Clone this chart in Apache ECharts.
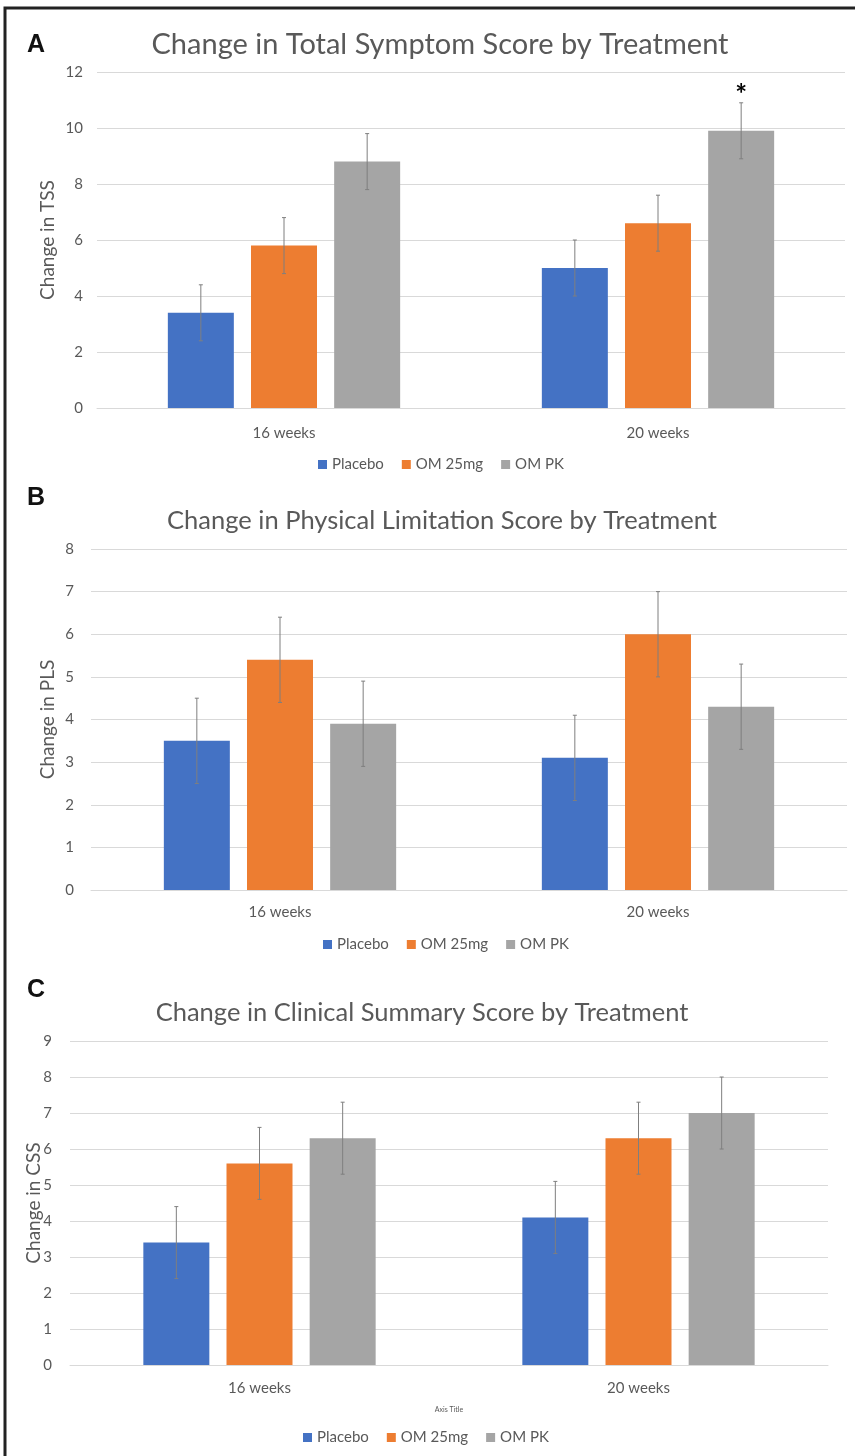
<!DOCTYPE html>
<html>
<head>
<meta charset="utf-8">
<script src="https://cdn.jsdelivr.net/npm/echarts@6/dist/echarts.min.js"></script>
<style>
html,body{margin:0;padding:0;background:#fff;}
#c{width:855px;height:1456px;}
</style>
</head>
<body>
<div id="c"></div>
<script>
// ---- data ----
const categories = ['16 weeks', '20 weeks'];
const seriesNames = ['Placebo', 'OM 25mg', 'OM PK'];

const tssPlacebo = [3.4, 5.0];
const tssOM25 = [5.8, 6.6];
const tssOMPK = [8.8, 9.9];
const tssErr = [[1, 1], [1, 1], [1, 1]];
const tssSig = [['', ''], ['', ''], ['', '*']];

const plsPlacebo = [3.5, 3.1];
const plsOM25 = [5.4, 6.0];
const plsOMPK = [3.9, 4.3];
const plsErr = [[1, 1], [1, 1], [1, 1]];
const plsSig = [['', ''], ['', ''], ['', '']];

const cssPlacebo = [3.4, 4.1];
const cssOM25 = [5.6, 6.3];
const cssOMPK = [6.3, 7.0];
const cssErr = [[1, 1], [1, 1], [1, 1]];
const cssSig = [['', ''], ['', ''], ['', '']];

const panelTitles = [
  'Change in Total Symptom Score by Treatment',
  'Change in Physical Limitation Score by Treatment',
  'Change in Clinical Summary Score by Treatment'
];
const yNames = ['Change in TSS', 'Change in PLS', 'Change in CSS'];
const panelLetters = ['A', 'B', 'C'];
const yMax = [12, 8, 9];
const yInterval = [2, 1, 1];

// ---- styling ----
const colors = ['#4472C4', '#ED7D31', '#A5A5A5'];
const FONT = 'Lato, "Open Sans", sans-serif';
const TXT = '#595959';
const BAR_W = 66;
const BAR_GAP = 0.26;

const panels = [
  { vals: [tssPlacebo, tssOM25, tssOMPK], err: tssErr, sig: tssSig,
    grid: { left: 97, top: 72, width: 748, height: 336 },
    titleX: 435, titleY: 25, titleSize: 29, letterX: 22, letterY: 28,
    yLabelMargin: 14, yNameGap: 40, xLabelMargin: 18, legendLeft: 313, legendTop: 452, xName: '' },
  { vals: [plsPlacebo, plsOM25, plsOMPK], err: plsErr, sig: plsSig,
    grid: { left: 91, top: 549, width: 756, height: 341 },
    titleX: 437, titleY: 503, titleSize: 25.5, letterX: 22, letterY: 481,
    yLabelMargin: 17, yNameGap: 34, xLabelMargin: 15, legendLeft: 318, legendTop: 932, xName: '' },
  { vals: [cssPlacebo, cssOM25, cssOMPK], err: cssErr, sig: cssSig,
    grid: { left: 70, top: 1041, width: 758, height: 324 },
    titleX: 417, titleY: 995, titleSize: 25.5, letterX: 22, letterY: 973,
    yLabelMargin: 18, yNameGap: 27, xLabelMargin: 16, legendLeft: 298, legendTop: 1425, xName: 'Axis Title' }
];

const grids = [], xAxes = [], yAxes = [], series = [], legends = [], titles = [];

panels.forEach((p, pi) => {
  grids.push(Object.assign({ containLabel: false }, p.grid));
  xAxes.push({
    type: 'category', gridIndex: pi, data: categories,
    axisLine: { show: true, lineStyle: { color: '#D9D9D9' } },
    axisTick: { show: false },
    axisLabel: { color: TXT, fontSize: 15, fontFamily: FONT, margin: p.xLabelMargin },
    name: p.xName, nameLocation: 'middle', nameGap: 41, nameMoveOverlap: false,
    nameTextStyle: { color: TXT, fontSize: 7, fontFamily: FONT }
  });
  yAxes.push({
    type: 'value', gridIndex: pi, min: 0, max: yMax[pi], interval: yInterval[pi],
    axisLine: { show: false }, axisTick: { show: false },
    splitLine: { lineStyle: { color: '#D9D9D9', width: 1 } },
    axisLabel: { color: TXT, fontSize: 15, fontFamily: FONT, margin: p.yLabelMargin },
    name: yNames[pi], nameLocation: 'middle', nameGap: p.yNameGap, nameRotate: 90,
    nameMoveOverlap: false,
    nameTextStyle: { color: TXT, fontSize: 19, fontFamily: FONT }
  });
  seriesNames.forEach((nm, si) => {
    series.push({
      type: 'bar', name: nm, xAxisIndex: pi, yAxisIndex: pi,
      data: p.vals[si], barWidth: BAR_W, barGap: (BAR_GAP * 100) + '%',
      itemStyle: { color: colors[si] }, silent: true
    });
  });
  const errData = [];
  seriesNames.forEach((nm, si) => {
    categories.forEach((c, ci) => {
      errData.push([ci, p.vals[si][ci], p.err[si][ci], si, p.sig[si][ci]]);
    });
  });
  series.push({
    type: 'custom', xAxisIndex: pi, yAxisIndex: pi, data: errData, silent: true, z: 5,
    renderItem: function (params, api) {
      const ci = api.value(0), v = api.value(1), e = api.value(2), si = api.value(3);
      const sig = errData[params.dataIndex][4];
      const off = (si - 1) * BAR_W * (1 + BAR_GAP);
      const top = api.coord([ci, v + e]);
      const bot = api.coord([ci, v - e]);
      const x = top[0] + off;
      const cap = 2;
      const st = { stroke: '#7F7F7F', lineWidth: 1 };
      const children = [
        { type: 'line', shape: { x1: x, y1: top[1], x2: x, y2: bot[1] }, style: st },
        { type: 'line', shape: { x1: x - cap, y1: top[1], x2: x + cap, y2: top[1] }, style: st },
        { type: 'line', shape: { x1: x - cap, y1: bot[1], x2: x + cap, y2: bot[1] }, style: st }
      ];
      if (sig) {
        children.push({ type: 'text', x: x, y: top[1] - 8,
          style: { text: sig, fill: '#000', font: 'bold 28px ' + FONT, align: 'center', verticalAlign: 'middle' } });
      }
      return { type: 'group', children: children };
    }
  });
  legends.push({
    left: p.legendLeft, top: p.legendTop, data: seriesNames, icon: 'rect',
    itemWidth: 9, itemHeight: 9, itemGap: 18, selectedMode: false,
    textStyle: { color: TXT, fontSize: 15, fontFamily: FONT }
  });
  titles.push({
    text: panelTitles[pi], left: p.titleX, top: p.titleY, textAlign: 'center',
    textStyle: { color: TXT, fontSize: p.titleSize, fontWeight: 'normal', fontFamily: FONT }
  });
  titles.push({
    text: panelLetters[pi], left: p.letterX, top: p.letterY,
    textStyle: { color: '#111', fontSize: 25, fontWeight: 'bold', fontFamily: 'Arial, "Liberation Sans", sans-serif' }
  });
});

const chart = echarts.init(document.getElementById('c'), null, { renderer: 'canvas' });
chart.setOption({
  backgroundColor: '#fff',
  animation: false,
  title: titles,
  grid: grids,
  xAxis: xAxes,
  yAxis: yAxes,
  legend: legends,
  series: series,
  graphic: [{
    type: 'rect', shape: { x: 5, y: 8, width: 900, height: 1500 },
    style: { fill: 'none', stroke: '#222', lineWidth: 3 }, silent: true
  }]
});
</script>
</body>
</html>
